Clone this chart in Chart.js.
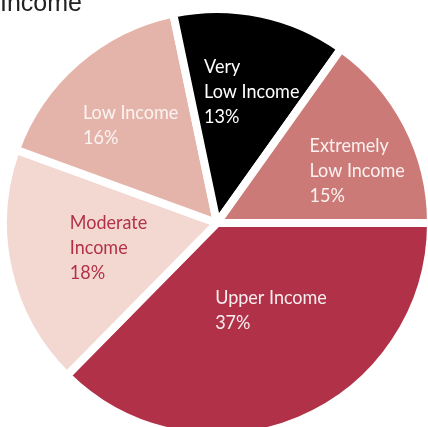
<!DOCTYPE html>
<html lang="en">
<head>
    <meta charset="UTF-8">
    <title>Income</title>
    <script src="https://cdn.jsdelivr.net/npm/chart.js"></script>
    <style>
        html, body {
            margin: 0;
            padding: 0;
            background: #fff;
            overflow: hidden;
        }
        .chart-container {
            position: relative;
            width: 428px;
            height: 427px;
        }
        .title {
            position: absolute;
            left: 0;
            top: -10px;
            font: 25px/25px 'Liberation Sans', Arial, sans-serif;
            color: #222;
            z-index: 2;
        }
    </style>
</head>
<body>
    <div class="chart-container">
        <div class="title">Income</div>
        <canvas id="incomeChart"></canvas>
    </div>

    <script>
        // data, clockwise from 3 o'clock
        const categories = ['Upper Income', 'Moderate Income', 'Low Income', 'Very Low Income', 'Extremely Low Income'];
        const labelLines = [['Upper Income'], ['Moderate', 'Income'], ['Low Income'], ['Very', 'Low Income'], ['Extremely', 'Low Income']];
        const shares = [37, 18, 16, 13, 15];

        const sliceColors = ['#b13248', '#f3d8d2', '#e4b4ab', '#000000', '#cc7a77'];
        const textColors = ['#f8eef0', '#b13248', '#fbf3f1', '#ffffff', '#fbf1f0'];
        // radial fraction and angle nudge (deg) for each label block
        const labelPlace = [[0.48, -9], [0.52, 0], [0.61, -0.5], [0.635, 3], [0.70, 6.6]];

        const sliceLabels = {
            id: 'sliceLabels',
            afterDatasetsDraw(chart) {
                const ctx = chart.ctx;
                const meta = chart.getDatasetMeta(0);
                const squeeze = 0.9;  // the original face is a condensed one
                const lineH = 25;
                ctx.save();
                ctx.font = '400 20px Lato, sans-serif';
                ctx.textAlign = 'left';
                ctx.textBaseline = 'middle';
                meta.data.forEach((arc, i) => {
                    const p = arc.getProps(['x', 'y', 'startAngle', 'endAngle', 'outerRadius'], true);
                    const mid = (p.startAngle + p.endAngle) / 2 + labelPlace[i][1] * Math.PI / 180;
                    const r = p.outerRadius * labelPlace[i][0];
                    const cx = p.x + Math.cos(mid) * r;
                    const cy = p.y + Math.sin(mid) * r;
                    const lines = labelLines[i].concat([shares[i] + '%']);
                    const w = squeeze * Math.max(...lines.map(t => ctx.measureText(t).width));
                    const top = cy - (lines.length - 1) * lineH / 2;
                    ctx.fillStyle = textColors[i];
                    lines.forEach((t, k) => {
                        ctx.save();
                        ctx.translate(cx - w / 2, top + k * lineH);
                        ctx.scale(squeeze, 1);
                        ctx.fillText(t, 0, 0);
                        ctx.restore();
                    });
                });
                ctx.restore();
            }
        };

        new Chart(document.getElementById('incomeChart'), {
            type: 'pie',
            data: {
                labels: categories,
                datasets: [{
                    data: shares,
                    backgroundColor: sliceColors,
                    borderColor: '#ffffff',
                    borderWidth: 8
                }]
            },
            options: {
                responsive: true,
                maintainAspectRatio: false,
                animation: false,
                rotation: 90,
                radius: 214,
                layout: {
                    padding: { left: 6, top: 19 }
                },
                plugins: {
                    legend: { display: false },
                    tooltip: { enabled: false }
                }
            },
            plugins: [sliceLabels]
        });
    </script>
</body>
</html>
